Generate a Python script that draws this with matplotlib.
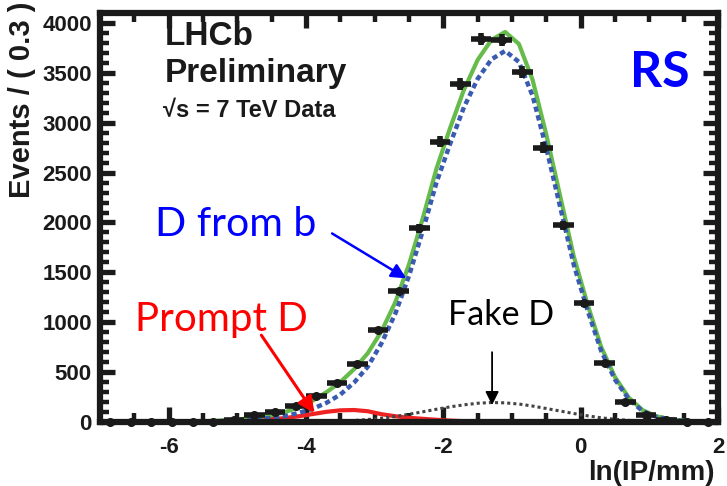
import numpy as np
import matplotlib
matplotlib.use("Agg")
import matplotlib.pyplot as plt
from matplotlib.ticker import MultipleLocator

plt.rcParams["axes.unicode_minus"] = False

# binned data, bin width 0.3
bin_centers = [-6.85, -6.55, -6.25, -5.95, -5.65, -5.35, -5.05, -4.75, -4.45, -4.15,
               -3.85, -3.55, -3.25, -2.95, -2.65, -2.35, -2.05, -1.75, -1.45, -1.15,
               -0.85, -0.55, -0.25, 0.05, 0.35, 0.65, 0.95, 1.25, 1.55, 1.85]
counts = [0, 0, 0, 0, 0, 5, 25, 70, 105, 165,
          260, 390, 585, 925, 1310, 1940, 2810, 3390, 3840, 3830,
          3510, 2750, 1970, 1190, 590, 200, 70, 20, 3, 0]

# fit components
curve_x = [-5.5, -5.3, -5.1, -4.9, -4.7, -4.5, -4.3, -4.1, -3.9, -3.7,
           -3.5, -3.3, -3.1, -2.9, -2.7, -2.5, -2.3, -2.1, -1.9, -1.7,
           -1.5, -1.3, -1.1, -0.9, -0.7, -0.5, -0.3, -0.1, 0.1, 0.3,
           0.5, 0.7, 0.9, 1.1, 1.3, 1.5, 1.7, 1.9]
total_fit = [8, 12, 20, 32, 47, 68, 100, 150, 215, 300,
             400, 530, 690, 910, 1200, 1580, 2040, 2540, 2950, 3330,
             3630, 3830, 3910, 3790, 3430, 2880, 2270, 1660, 1180, 750,
             450, 245, 120, 58, 28, 12, 5, 2]
from_b = [6, 8, 13, 20, 29, 41, 60, 92, 133, 193,
          275, 395, 555, 790, 1085, 1465, 1915, 2400, 2790, 3155,
          3440, 3635, 3720, 3610, 3270, 2745, 2160, 1575, 1120, 710,
          425, 230, 110, 53, 26, 11, 5, 2]
prompt = [2, 4, 7, 12, 18, 27, 40, 58, 80, 102,
          117, 120, 108, 78, 58, 42, 32, 22, 14, 8,
          4, 2, 0, 0, 0, 0, 0, 0, 0, 0,
          0, 0, 0, 0, 0, 0, 0, 0]
fake = [0, 0, 0, 0, 0, 0, 0, 0, 2, 5,
        8, 15, 25, 38, 55, 78, 102, 128, 152, 172,
        188, 195, 192, 180, 160, 135, 110, 85, 62, 42,
        27, 16, 9, 5, 2, 1, 0, 0]

half_bin = 0.15
ink = "#1a1a1a"

fig = plt.figure(figsize=(7.27, 4.86), dpi=100)
ax = fig.add_axes([100/727, 64/486, 618/727, 409/486])

ax.plot(curve_x, prompt, color="#ee2222", lw=3, zorder=2)
ax.plot(curve_x, fake, color="#444444", lw=2.2, ls=(0, (1.0, 1.0)), zorder=2)
ax.plot(curve_x, from_b, color="#3a5bb0", lw=3.2, ls=(0, (1.2, 0.8)), zorder=2.2)
ax.plot(curve_x, total_fit, color="#66bb4a", lw=3, zorder=2.1)

ax.errorbar(bin_centers, counts, xerr=half_bin, yerr=np.sqrt(counts),
            fmt="o", color=ink, ms=5.5, elinewidth=4, capsize=0, zorder=3,
            clip_on=False)

ax.set_xlim(-7, 2)
ax.set_ylim(0, 4100)

for s in ax.spines.values():
    s.set_linewidth(4.5)
    s.set_color(ink)

ax.xaxis.set_major_locator(MultipleLocator(2))
ax.xaxis.set_minor_locator(MultipleLocator(0.5))
ax.yaxis.set_major_locator(MultipleLocator(500))
ax.yaxis.set_minor_locator(MultipleLocator(100))
ax.tick_params(which="both", direction="in", top=True, right=True, color=ink)
ax.tick_params(which="major", length=11, width=3.8)
ax.tick_params(which="minor", length=6.5, width=3.2)
ax.tick_params(axis="x", which="major", pad=11)
ax.tick_params(axis="y", which="major", pad=6)
for lab in ax.get_xticklabels() + ax.get_yticklabels():
    lab.set_fontfamily("Liberation Sans")
    lab.set_fontweight("bold")
    lab.set_fontsize(16)
    lab.set_color(ink)

fig.text(22/727, 1 - 2/486, "Events / ( 0.3 )", rotation=90, ha="center", va="top",
         family="Liberation Sans", weight="bold", fontsize=21, color=ink)
fig.text(715/727, 1 - 480/486, "ln(IP/mm)", ha="right", va="baseline",
         family="Liberation Sans", weight="bold", fontsize=20, color=ink)

ax.text(0.105, 0.922, "LHCb", transform=ax.transAxes, family="Liberation Sans",
        weight="bold", fontsize=24, color=ink, va="baseline")
ax.text(0.105, 0.831, "Preliminary", transform=ax.transAxes, family="Liberation Sans",
        weight="bold", fontsize=24, color=ink, va="baseline")
ax.text(0.102, 0.746, "\u221as = 7 TeV Data", transform=ax.transAxes,
        family=["Liberation Sans", "DejaVu Sans"], weight="bold", fontsize=17,
        color=ink, va="baseline")
ax.text(0.858, 0.819, "RS", transform=ax.transAxes, family="Lato", weight="bold",
        fontsize=36, color="#0000ff", va="baseline")

ax.text(0.089, 0.455, "D from b", transform=ax.transAxes, family="Lato",
        fontsize=29.5, color="#0000ff", va="baseline")
ax.text(0.057, 0.222, "Prompt D", transform=ax.transAxes, family="Lato",
        fontsize=29, color="#ff0000", va="baseline")
ax.text(0.563, 0.237, "Fake D", transform=ax.transAxes, family="Lato",
        fontsize=24.5, color="black", va="baseline")

ax.annotate("", xy=(-2.54, 1440), xytext=(-3.62, 1890),
            arrowprops=dict(arrowstyle="-|>", color="#0000ff", lw=1.8,
                            mutation_scale=22, shrinkA=0, shrinkB=0), zorder=4)
ax.annotate("", xy=(-3.88, 90), xytext=(-4.65, 870),
            arrowprops=dict(arrowstyle="-|>", color="#ff0000", lw=2.2,
                            mutation_scale=24, shrinkA=0, shrinkB=0), zorder=4)
ax.annotate("", xy=(-1.29, 170), xytext=(-1.29, 700),
            arrowprops=dict(arrowstyle="-|>", color="black", lw=1.3,
                            mutation_scale=20, shrinkA=0, shrinkB=0), zorder=4)

fig.savefig("out.png", dpi=100)
